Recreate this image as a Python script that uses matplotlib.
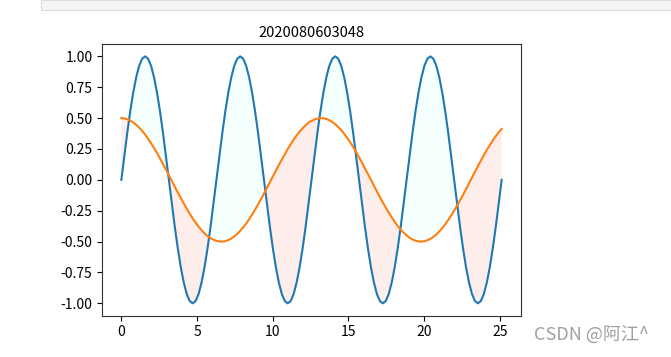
import numpy as np
import matplotlib as mpl
mpl.use('Agg')
import matplotlib.pyplot as plt
from matplotlib.patches import Rectangle

plt.rcParams['font.family'] = ['Noto Sans CJK SC', 'DejaVu Sans']
plt.rcParams['axes.unicode_minus'] = False

## values, one sample every ~0.196 on x
x_end = 25.13
blue_y = [
    0, .195, .383, .556, .707, .831, .924, .981, 1, .981, .924, .831, .707, .556, .383, .195,
    0, -.195, -.383, -.556, -.707, -.831, -.924, -.981, -1, -.981, -.924, -.831, -.707, -.556, -.383, -.195,
    0, .195, .383, .556, .707, .831, .924, .981, 1, .981, .924, .831, .707, .556, .383, .195,
    0, -.195, -.383, -.556, -.707, -.831, -.924, -.981, -1, -.981, -.924, -.831, -.707, -.556, -.383, -.195,
    0, .195, .383, .556, .707, .831, .924, .981, 1, .981, .924, .831, .707, .556, .383, .195,
    0, -.195, -.383, -.556, -.707, -.831, -.924, -.981, -1, -.981, -.924, -.831, -.707, -.556, -.383, -.195,
    0, .195, .383, .556, .707, .831, .924, .981, 1, .981, .924, .831, .707, .556, .383, .195,
    0, -.195, -.383, -.556, -.707, -.831, -.924, -.981, -1, -.981, -.924, -.831, -.707, -.556, -.383, -.195,
    0]
orange_y = [
    .500, .498, .491, .480, .465, .446, .423, .397, .367, .333, .297, .258, .217, .174, .129, .084,
    .037, -.009, -.056, -.102, -.147, -.191, -.234, -.274, -.312, -.347, -.379, -.408, -.433, -.455, -.472, -.485,
    -.494, -.499, -.500, -.496, -.487, -.475, -.458, -.438, -.413, -.385, -.354, -.319, -.282, -.242, -.200, -.156,
    -.111, -.065, -.019, .028, .075, .120, .165, .208, .250, .289, .326, .360, .391, .418, .442, .462,
    .478, .489, .497, .500, .499, .493, .483, .469, .450, .428, .402, .373, .340, .304, .266, .225,
    .183, .138, .093, .047, 0, -.047, -.093, -.138, -.183, -.225, -.266, -.304, -.340, -.373, -.402, -.428,
    -.450, -.469, -.483, -.493, -.499, -.500, -.497, -.489, -.478, -.462, -.442, -.418, -.391, -.360, -.326, -.289,
    -.250, -.208, -.165, -.120, -.075, -.028, .019, .065, .111, .156, .200, .242, .282, .319, .354, .385,
    .413]
title = '2020080603048'
watermark = 'CSDN @阿江^'

x = np.linspace(0, x_end, len(blue_y))
b = np.array(blue_y)
o = np.array(orange_y)

fig = plt.figure(figsize=(6.71, 3.57), dpi=100)

# grey strip of the notebook cell above the plot
fig.patches.append(Rectangle((41/671, 1 - 10/357), 1, 10/357, transform=fig.transFigure,
                             facecolor='#f5f5f5', edgecolor='#dcdcdc', lw=0.8))

ax = fig.add_axes([0.1525, 0.1157, 0.6235, 0.761])
ax.fill_between(x, b, o, where=b >= o, interpolate=True, facecolor='#f5fffd', lw=0)
ax.fill_between(x, b, o, where=b <= o, interpolate=True, facecolor='#fdeeec', lw=0)
ax.plot(x, b, color='#1f77b4', lw=1.5)
ax.plot(x, o, color='#ff7f0e', lw=1.5)
ax.set_title(title, fontsize=10.5, pad=5)
ax.set_xticks([0, 5, 10, 15, 20, 25])
ax.set_yticks([-1, -0.75, -0.5, -0.25, 0, 0.25, 0.5, 0.75, 1])
ax.yaxis.set_major_formatter(mpl.ticker.FormatStrFormatter('%.2f'))
ax.tick_params(labelsize=10)
for s in ax.spines.values():
    s.set_color('#333333')

fig.text(591/671, 1 - 336/357, watermark, fontsize=13, color='#a0a0a0', ha='center', va='center')

fig.savefig('out.png', dpi=100)
